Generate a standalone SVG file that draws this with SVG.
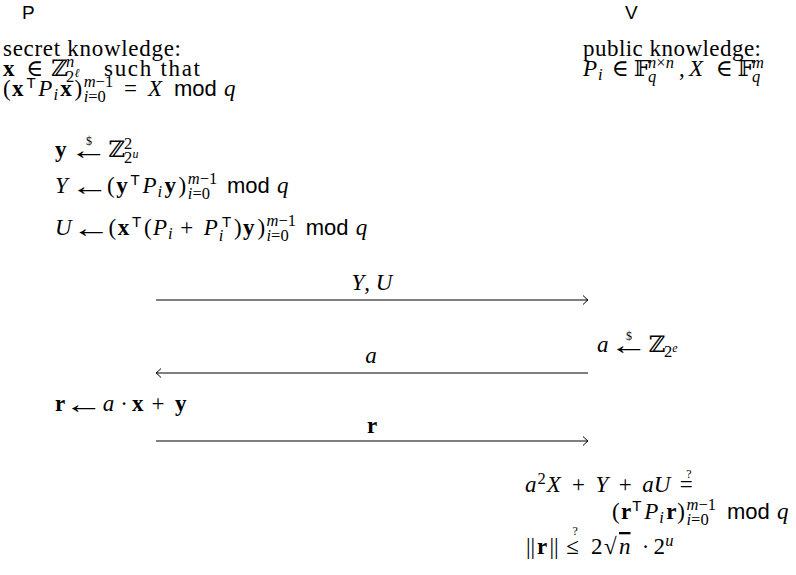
<svg xmlns="http://www.w3.org/2000/svg" width="796" height="575" viewBox="0 0 796 575">
<style>
text{font-family:"Liberation Serif","DejaVu Serif",serif;font-size:23px;fill:#000}
.i{font-style:italic}
.b{font-weight:bold}
.sf{font-family:"Liberation Sans","DejaVu Sans",sans-serif;font-size:22px}
.sc{font-size:16.5px}
.st{font-family:"Liberation Sans","DejaVu Sans",sans-serif;font-size:15px}
.ss{font-size:12px}
.hd{font-family:"Liberation Sans","DejaVu Sans",sans-serif;font-size:19px}
.ar{font-family:"Liberation Serif","DejaVu Serif",serif;font-size:26px;text-anchor:middle}
.msg{stroke:#000;stroke-width:1.1;fill:none}
</style>
<defs>
<marker id="to" viewBox="-7 -6 9 12" refX="0" refY="0" markerWidth="9" markerHeight="12" markerUnits="userSpaceOnUse" orient="auto">
<path d="M-5,-4.5 Q-1.5,-1 0,0 Q-1.5,1 -5,4.5" fill="none" stroke="#000" stroke-width="1"/>
</marker>
</defs>
<g id="prover">
<text class="hd" x="22" y="19">P</text>
<text x="3" y="56" textLength="178" lengthAdjust="spacing">secret knowledge:</text>
<text y="76"><tspan class="b" x="3">x</tspan><tspan x="26">∈</tspan><tspan x="51">ℤ</tspan><tspan class="sc i" x="66" y="67">n</tspan><tspan class="sc" x="66" y="82">2</tspan><tspan class="ss i" x="74.5" y="76.5">ℓ</tspan></text>
<text x="104" y="76" textLength="96" lengthAdjust="spacing">such that</text>
<text y="96"><tspan x="3">(</tspan><tspan class="b" x="12">x</tspan><tspan class="st" x="26.4" y="87.5">T</tspan><tspan class="i" x="38.3" y="96">P</tspan><tspan class="sc i" x="53.4" y="100">i</tspan><tspan class="b" x="60.3" y="96">x</tspan><tspan x="74.6">)</tspan><tspan class="sc" x="83.7" y="87"><tspan class="i">m</tspan>−1</tspan><tspan class="sc" x="83.7" y="102"><tspan class="i">i</tspan>=0</tspan><tspan x="124" y="96">=</tspan><tspan class="i" x="148">X</tspan><tspan class="sf" x="174">mod</tspan><tspan class="i" x="224">q</tspan></text>
<text y="157"><tspan class="b" x="55">y</tspan><tspan class="ss" x="86" y="145">$</tspan><tspan x="108.3" y="157">ℤ</tspan><tspan class="sc" x="124" y="148.5">2</tspan><tspan class="sc" x="124" y="163">2</tspan><tspan class="ss i" x="132.5" y="157.5">u</tspan></text>
<text class="ar" transform="translate(89,158.5) scale(1.5,1)">←</text>
<text y="193"><tspan class="i" x="55">Y</tspan><tspan x="107">(</tspan><tspan class="b" x="116.2">y</tspan><tspan class="st" x="130.5" y="184.5">T</tspan><tspan class="i" x="142.4" y="193">P</tspan><tspan class="sc i" x="157.5" y="197">i</tspan><tspan class="b" x="164.4" y="193">y</tspan><tspan x="178.6">)</tspan><tspan class="sc" x="187.8" y="184"><tspan class="i">m</tspan>−1</tspan><tspan class="sc" x="187.8" y="199"><tspan class="i">i</tspan>=0</tspan><tspan class="sf" x="227" y="193">mod</tspan><tspan class="i" x="277">q</tspan></text>
<text class="ar" transform="translate(90,194.5) scale(1.5,1)">←</text>
<text y="235"><tspan class="i" x="55">U</tspan><tspan x="108.5">(</tspan><tspan class="b" x="117.7">x</tspan><tspan class="st" x="132" y="226.5">T</tspan><tspan x="143.9" y="235">(</tspan><tspan class="i" x="153">P</tspan><tspan class="sc i" x="168.1" y="239">i</tspan><tspan x="180.2" y="235">+</tspan><tspan class="i" x="203.7">P</tspan><tspan class="st" x="222.1" y="226.5">T</tspan><tspan class="sc i" x="218.8" y="241">i</tspan><tspan x="234" y="235">)</tspan><tspan class="b" x="243.1">y</tspan><tspan x="257.4">)</tspan><tspan class="sc" x="266.5" y="226"><tspan class="i">m</tspan>−1</tspan><tspan class="sc" x="266.5" y="241"><tspan class="i">i</tspan>=0</tspan><tspan class="sf" x="305.7" y="235">mod</tspan><tspan class="i" x="355.7">q</tspan></text>
<text class="ar" transform="translate(91.5,236.5) scale(1.5,1)">←</text>
<text y="411"><tspan class="b" x="55">r</tspan><tspan class="i" x="102.7">a</tspan><tspan x="120.3">·</tspan><tspan class="b" x="132.1">x</tspan><tspan x="151.6">+</tspan><tspan class="b" x="175.1">y</tspan></text>
<text class="ar" transform="translate(84,412.5) scale(1.5,1)">←</text>
</g>
<g id="verifier">
<text class="hd" x="625" y="19">V</text>
<text x="583" y="56" textLength="178" lengthAdjust="spacing">public knowledge:</text>
<text y="76"><tspan class="i" x="583">P</tspan><tspan class="sc i" x="598.1" y="80">i</tspan><tspan x="611.5" y="76">∈</tspan><tspan x="633.7">𝔽</tspan><tspan class="sc" x="648.1" y="67.5"><tspan class="i">n</tspan>×<tspan class="i">n</tspan></tspan><tspan class="sc i" x="648.1" y="82">q</tspan><tspan x="679" y="76">,</tspan><tspan class="i" x="689">X</tspan><tspan x="715.5">∈</tspan><tspan x="737.5">𝔽</tspan><tspan class="sc i" x="752" y="67.5">m</tspan><tspan class="sc i" x="752" y="82">q</tspan></text>
<text y="352"><tspan class="i" x="597">a</tspan><tspan class="ss" x="626" y="340">$</tspan><tspan x="648.4" y="352">ℤ</tspan><tspan class="sc" x="664.1" y="357">2</tspan><tspan class="ss i" x="672.3" y="352">e</tspan></text>
<text class="ar" transform="translate(629,353.5) scale(1.5,1)">←</text>
<text y="492"><tspan class="i" x="525">a</tspan><tspan class="sc" x="537.4" y="483.5">2</tspan><tspan class="i" x="546.8" y="492">X</tspan><tspan x="572">+</tspan><tspan class="i" x="595.5">Y</tspan><tspan x="618.7">+</tspan><tspan class="i" x="642.2">aU</tspan><tspan x="679.7">=</tspan><tspan class="ss" x="686.2" y="478">?</tspan></text>
<text y="519"><tspan x="612">(</tspan><tspan class="b" x="621.1">r</tspan><tspan class="st" x="632.3" y="510.5">T</tspan><tspan class="i" x="644.2" y="519">P</tspan><tspan class="sc i" x="659.3" y="523">i</tspan><tspan class="b" x="666.2" y="519">r</tspan><tspan x="677.3">)</tspan><tspan class="sc" x="686.5" y="510"><tspan class="i">m</tspan>−1</tspan><tspan class="sc" x="686.5" y="525"><tspan class="i">i</tspan>=0</tspan><tspan class="sf" x="727" y="519">mod</tspan><tspan class="i" x="777">q</tspan></text>
<text y="554"><tspan x="526">|</tspan><tspan x="530.5">|</tspan><tspan class="b" x="537">r</tspan><tspan x="549.5">|</tspan><tspan x="554">|</tspan><tspan x="566.2">≤</tspan><tspan class="ss" x="572.6" y="535">?</tspan><tspan x="591" y="554">2</tspan><tspan x="604">√</tspan><tspan class="i" x="619" style="text-decoration:overline">n</tspan><tspan x="641.7">·</tspan><tspan x="653.4">2</tspan><tspan class="sc i" x="665.2" y="545.5">u</tspan></text>
</g>
<g id="messages">
<line class="msg" x1="156" y1="300" x2="588" y2="300" marker-end="url(#to)"/>
<line class="msg" x1="588" y1="373" x2="156" y2="373" marker-end="url(#to)"/>
<line class="msg" x1="156" y1="441" x2="588" y2="441" marker-end="url(#to)"/>
<text x="372" y="290" text-anchor="middle"><tspan class="i">Y</tspan>, <tspan class="i">U</tspan></text>
<text x="371" y="363" text-anchor="middle" class="i">a</text>
<text x="372" y="433" text-anchor="middle" class="b">r</text>
</g>
</svg>
